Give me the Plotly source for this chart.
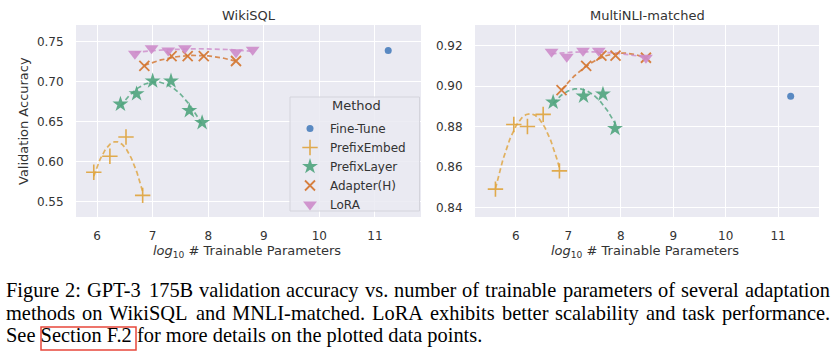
import numpy as np
import plotly.graph_objects as go

W, H = 832, 356

methods = ["Fine-Tune", "PrefixEmbed", "PrefixLayer", "Adapter(H)", "LoRA"]
colors = ["#4A7FBD", "#E0A43C", "#4FA57E", "#D4742C", "#CE8CCB"]

# WikiSQL
wiki_ft_x = [11.24]
wiki_ft_y = [0.739]
wiki_pe_x = [5.94, 6.23, 6.52, 6.82]
wiki_pe_y = [0.587, 0.607, 0.631, 0.558]
wiki_pl_x = [6.42, 6.71, 7.00, 7.33, 7.66, 7.89]
wiki_pl_y = [0.672, 0.685, 0.701, 0.701, 0.664, 0.649]
wiki_ad_x = [6.85, 7.34, 7.63, 7.92, 8.50]
wiki_ad_y = [0.720, 0.732, 0.732, 0.732, 0.726]
wiki_lo_x = [6.68, 6.98, 7.28, 7.58, 8.50, 8.80]
wiki_lo_y = [0.735, 0.742, 0.739, 0.742, 0.737, 0.740]

# MultiNLI-matched
mnli_ft_x = [11.24]
mnli_ft_y = [0.895]
mnli_pe_x = [5.61, 5.96, 6.22, 6.52, 6.83]
mnli_pe_y = [0.849, 0.881, 0.880, 0.886, 0.858]
mnli_pl_x = [6.71, 7.29, 7.66, 7.89]
mnli_pl_y = [0.892, 0.895, 0.896, 0.879]
mnli_ad_x = [6.87, 7.34, 7.63, 7.90, 8.48]
mnli_ad_y = [0.898, 0.910, 0.915, 0.915, 0.914]
mnli_lo_x = [6.68, 6.97, 7.28, 7.58, 8.48]
mnli_lo_y = [0.917, 0.9145, 0.9175, 0.9175, 0.914]

x_ticks = [6, 7, 8, 9, 10, 11]
wiki_y_ticks = [0.55, 0.60, 0.65, 0.70, 0.75]
mnli_y_ticks = [0.84, 0.86, 0.88, 0.90, 0.92]

caption_lines = [
    "Figure 2: GPT-3 175B validation accuracy vs. number of trainable parameters of several adaptation",
    "methods on WikiSQL and MNLI-matched. LoRA exhibits better scalability and task performance.",
    "See Section F.2 for more details on the plotted data points.",
]
caption_justified = [True, True, False]

marker_styles = [
    dict(symbol="circle", size=7),
    dict(symbol="cross-thin-open", size=11, line=dict(width=1.6)),
    dict(symbol="star", size=12, line=dict(width=0)),
    dict(symbol="x-thin-open", size=10, line=dict(width=1.8)),
    dict(symbol="triangle-down", size=12, line=dict(width=0)),
]

def px_x(p):
    return p / W

def px_y(p):
    return 1 - p / H

fig = go.Figure()

panels = [
    ("x", "y", [
        (wiki_ft_x, wiki_ft_y), (wiki_pe_x, wiki_pe_y), (wiki_pl_x, wiki_pl_y),
        (wiki_ad_x, wiki_ad_y), (wiki_lo_x, wiki_lo_y)], True),
    ("x2", "y2", [
        (mnli_ft_x, mnli_ft_y), (mnli_pe_x, mnli_pe_y), (mnli_pl_x, mnli_pl_y),
        (mnli_ad_x, mnli_ad_y), (mnli_lo_x, mnli_lo_y)], False),
]

for xa, ya, series, show in panels:
    # fitted dashed curves (quadratic regression of each method's points)
    for i, (sx, sy) in enumerate(series):
        if i == 0:
            continue
        coef = np.polyfit(sx, sy, 2)
        fx = np.linspace(min(sx), max(sx), 100)
        fy = np.polyval(coef, fx)
        fig.add_trace(go.Scatter(x=fx, y=fy, mode="lines", xaxis=xa, yaxis=ya,
                                 line=dict(color=colors[i], width=1.7, dash="5px,3px"),
                                 opacity=0.8, showlegend=False, hoverinfo="skip"))
    for i, (sx, sy) in enumerate(series):
        ms = dict(marker_styles[i])
        ms["color"] = colors[i]
        if "line" in ms:
            ms["line"] = dict(ms["line"], color=colors[i])
        fig.add_trace(go.Scatter(x=sx, y=sy, mode="markers", xaxis=xa, yaxis=ya,
                                 marker=ms, name=methods[i], showlegend=show,
                                 opacity=0.9))

axis_font = dict(family="DejaVu Sans", size=12, color="#333333")
common_x = dict(tickvals=x_ticks, gridcolor="white", gridwidth=1.2, zeroline=False,
                showline=False, ticks="outside", ticklen=8, tickcolor="rgba(0,0,0,0)",
                tickfont=axis_font)
common_y = dict(gridcolor="white", gridwidth=1.2, zeroline=False, showline=False,
                ticks="outside", ticklen=9, tickcolor="rgba(0,0,0,0)", tickfont=axis_font,
                tickformat=".2f")

ydom = [px_y(217), px_y(25)]
fig.update_layout(
    width=W, height=H,
    margin=dict(l=0, r=0, t=0, b=0),
    paper_bgcolor="white",
    plot_bgcolor="#EAEAF2",
    xaxis=dict(domain=[px_x(76), px_x(421)], range=[5.62, 11.83], anchor="y", **common_x),
    yaxis=dict(domain=ydom, range=[0.531, 0.771], tickvals=wiki_y_ticks, anchor="x", **common_y),
    xaxis2=dict(domain=[px_x(475), px_x(819)], range=[5.22, 11.78], anchor="y2", **common_x),
    yaxis2=dict(domain=ydom, range=[0.8352, 0.9302], tickvals=mnli_y_ticks, anchor="x2", **common_y),
    legend=dict(
        x=px_x(290), y=px_y(114), xanchor="left", yanchor="top",
        bgcolor="rgba(0,0,0,0)", borderwidth=0,
        font=dict(family="DejaVu Sans", size=12, color="#333333"),
        itemwidth=30, tracegroupgap=0,
    ),
)

# legend frame and title
fig.add_shape(type="rect", xref="paper", yref="paper", layer="above",
              x0=px_x(290), x1=px_x(419.5), y0=px_y(211), y1=px_y(97),
              fillcolor="rgba(234,234,242,0.85)", line=dict(color="#D4D4DC", width=1))

title_font = dict(family="DejaVu Sans", size=13, color="#333333")
annots = [
    dict(text="WikiSQL", x=px_x(248.5), y=px_y(15), font=title_font),
    dict(text="MultiNLI-matched", x=px_x(647), y=px_y(15), font=title_font),
    dict(text="<i>log</i><sub>10</sub> # Trainable Parameters", x=px_x(247), y=px_y(252), font=title_font),
    dict(text="<i>log</i><sub>10</sub> # Trainable Parameters", x=px_x(645), y=px_y(252), font=title_font),
    dict(text="Validation Accuracy", x=px_x(23), y=px_y(121), font=title_font, textangle=-90),
    dict(text="Method", x=px_x(356), y=px_y(106), font=title_font),
]
for a in annots:
    fig.add_annotation(xref="paper", yref="paper", showarrow=False,
                       xanchor="center", yanchor="middle", **a)

# caption (Times-metric widths used only to justify words across the line)
TIMES = {
    " ": 250, "a": 444, "b": 500, "c": 444, "d": 500, "e": 444, "f": 333, "g": 500,
    "h": 500, "i": 278, "j": 278, "k": 500, "l": 278, "m": 778, "n": 500, "o": 500,
    "p": 500, "q": 500, "r": 333, "s": 389, "t": 278, "u": 500, "v": 500, "w": 722,
    "x": 500, "y": 500, "z": 444, "A": 722, "B": 667, "C": 667, "D": 722, "E": 611,
    "F": 556, "G": 722, "H": 722, "I": 333, "J": 389, "K": 722, "L": 611, "M": 889,
    "N": 722, "O": 722, "P": 556, "Q": 722, "R": 667, "S": 556, "T": 611, "U": 722,
    "V": 722, "W": 944, "X": 722, "Y": 722, "Z": 611, ".": 250, ":": 278, "-": 333,
    ",": 250, "(": 333, ")": 333,
}
for d in "0123456789":
    TIMES[d] = 500

def text_w(s, size):
    return sum(TIMES.get(c, 500) for c in s) * size / 1000.0

cap_size = 20.4
cap_font = dict(family="Liberation Serif", size=cap_size, color="black")
cap_left, cap_right = 5.0, 829.0
cap_y = [290.3, 313.0, 335.7]
for line, just, yc in zip(caption_lines, caption_justified, cap_y):
    if just:
        words = line.split(" ")
        widths = [text_w(w, cap_size) for w in words]
        gap = (cap_right - cap_left - sum(widths)) / (len(words) - 1)
        xpos = cap_left
        for w, ww in zip(words, widths):
            fig.add_annotation(xref="paper", yref="paper", showarrow=False, borderpad=0,
                               x=px_x(xpos), y=px_y(yc), xanchor="left", yanchor="middle",
                               text=w, font=cap_font)
            xpos += ww + gap
    else:
        fig.add_annotation(xref="paper", yref="paper", showarrow=False, borderpad=0,
                           x=px_x(cap_left), y=px_y(yc), xanchor="left", yanchor="middle",
                           text=line, font=cap_font)

fig.add_shape(type="rect", xref="paper", yref="paper",
              x0=px_x(41), x1=px_x(136), y0=px_y(350), y1=px_y(327),
              line=dict(color="#E8473B", width=1.5))

fig.write_html("out.html", config={"displayModeBar": False},
               post_script="document.body.style.margin='0';")
